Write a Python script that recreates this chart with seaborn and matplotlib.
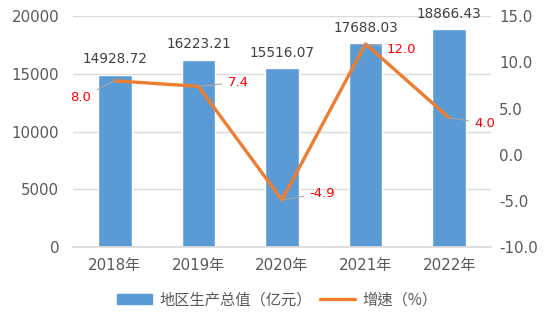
import numpy as np
import pandas as pd
import matplotlib
matplotlib.use("Agg")
import matplotlib.pyplot as plt
import seaborn as sns
from matplotlib.patches import Patch
from matplotlib.lines import Line2D

years = ["2018年", "2019年", "2020年", "2021年", "2022年"]
gdp = [14928.72, 16223.21, 15516.07, 17688.03, 18866.43]
growth = [8.0, 7.4, -4.9, 12.0, 4.0]
gdp_ticks = [0, 5000, 10000, 15000, 20000]
growth_ticks = [-10.0, -5.0, 0.0, 5.0, 10.0, 15.0]

sns.set_theme(style="white")
plt.rcParams["font.family"] = ["DejaVu Sans", "Noto Sans CJK TC"]

BLUE = "#5B9BD5"
ORANGE = "#ED7D31"
GREY = "#595959"

fig = plt.figure(figsize=(5.54, 3.23), dpi=100)
ax = fig.add_axes([0.132, 0.235, 0.754, 0.715])

df = pd.DataFrame({"year": years, "gdp": gdp, "growth": growth, "pos": np.arange(len(years))})

sns.barplot(data=df, x="year", y="gdp", color=BLUE, width=0.4, saturation=1, ax=ax)
ax.set_ylim(0, 20000)
ax.set_yticks(gdp_ticks)
ax.set_xlim(-0.5, len(years) - 0.5)
ax.grid(axis="y", color="#D9D9D9", linewidth=1)
ax.set_axisbelow(True)
for s in ["top", "right", "left"]:
    ax.spines[s].set_visible(False)
ax.spines["bottom"].set_color("#D9D9D9")
ax.tick_params(axis="both", length=0, labelsize=10.8, labelcolor=GREY, pad=10)
ax.tick_params(axis="x", pad=8)
ax.set_xlabel("")
ax.set_ylabel("")

for i, v in enumerate(gdp):
    ax.annotate(f"{v:.2f}", (i, v), xytext=(0, 6), textcoords="offset points",
                ha="center", va="bottom", fontsize=9.8, color="#404040")

ax2 = ax.twinx()
sns.lineplot(data=df, x="pos", y="growth", color=ORANGE, linewidth=2.4, ax=ax2)
ax2.set_ylim(-10, 15)
ax2.set_yticks(growth_ticks)
ax2.set_yticklabels([f"{t:.1f}" for t in growth_ticks])
ax2.set_xlim(-0.5, len(years) - 0.5)
for s in ax2.spines.values():
    s.set_visible(False)
ax2.tick_params(axis="y", length=0, labelsize=10.8, labelcolor=GREY, pad=6)
ax2.set_xlabel("")
ax2.set_ylabel("")

# label offsets (points) for each growth value, with thin leader lines
offsets = [(-17, -12), (21, 3), (20, 5), (15, -4), (18, -4)]
for i, (v, off) in enumerate(zip(growth, offsets)):
    ha = "right" if off[0] < 0 else "left"
    ax2.annotate(f"{v:.1f}", (i, v), xytext=off, textcoords="offset points",
                 ha=ha, va="center", fontsize=9.5, color="red",
                 arrowprops=dict(arrowstyle="-", color="#A6A6A6", lw=0.8,
                                 shrinkA=2, shrinkB=0))

handles = [Patch(facecolor=BLUE, edgecolor=BLUE),
           Line2D([0], [0], color=ORANGE, linewidth=2.4)]
labels = ["地区生产总值（亿元）", "增速（%）"]
fig.legend(handles, labels, loc="center", bbox_to_anchor=(0.5, 0.072), ncol=2,
           frameon=False, labelcolor=GREY, handlelength=2.3,
           handleheight=0.6, columnspacing=0.5, handletextpad=0.5,
           prop={"family": ["Noto Sans CJK TC", "DejaVu Sans"], "size": 11})

fig.savefig("out.png", dpi=100)
